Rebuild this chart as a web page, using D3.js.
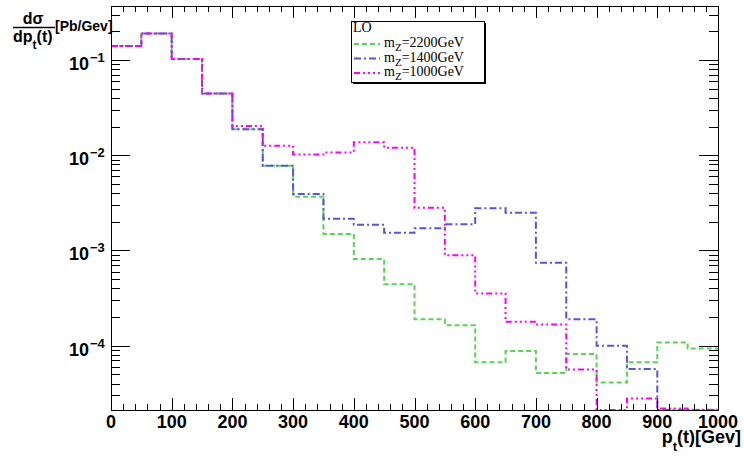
<!DOCTYPE html>
<html>
<head>
<meta charset="utf-8">
<script src="https://cdn.jsdelivr.net/npm/d3@7"></script>
<style>
  body { margin: 0; background: #fff; }
  svg { display: block; }
</style>
</head>
<body>
<div id="chart"></div>
<script>
// chart size and frame
const width = 744;
const height = 456;
const margin = { top: 6, right: 26, bottom: 46, left: 111 };

// lower edges of the 50 GeV bins
const binLow = [0, 50, 100, 150, 200, 250, 300, 350, 400, 450,
                500, 550, 600, 650, 700, 750, 800, 850, 900, 950];
const binHigh = 1000;

// dsigma/dpt per bin
const mz2200 = [0.140, 0.190, 0.1025, 0.0445, 0.0187, 0.00776, 0.00367, 0.00149, 0.000812, 0.000441,
                0.000189, 0.000164, 6.68e-5, 8.78e-5, 5.15e-5, 8.16e-5, 4.11e-5, 6.68e-5, 1.08e-4, 9.33e-5];
const mz1400 = [0.140, 0.190, 0.1025, 0.0445, 0.0187, 0.00776, 0.00391, 0.00215, 0.00186, 0.00153,
                0.00171, 0.00188, 0.00277, 0.00249, 0.000743, 0.000189, 1.00e-4, 5.68e-5, 2.1e-5, 2.1e-5];
const mz1000 = [0.140, 0.190, 0.1025, 0.0445, 0.0203, 0.0126, 0.0102, 0.0107, 0.01367, 0.0120,
                0.00281, 0.000889, 0.000354, 0.000178, 0.000167, 5.61e-5, 1e-6, 2.79e-5, 2.19e-5, 2.12e-5];

// axis ticks
const xTicks = [0, 100, 200, 300, 400, 500, 600, 700, 800, 900, 1000];
const yTickExp = [-1, -2, -3, -4];

const series = [
  { name: "2200GeV", values: mz2200, color: "#59d454", dash: "5,3" },
  { name: "1400GeV", values: mz1400, color: "#5954d8", dash: "7,3,2,3" },
  { name: "1000GeV", values: mz1000, color: "#ff00ff", dash: "6,3,2,3,2,3,2,3" }
];

const svg = d3.select("#chart").append("svg")
  .attr("width", width)
  .attr("height", height);

const x = d3.scaleLinear()
  .domain([0, 1000])
  .range([margin.left, width - margin.right]);

const y = d3.scaleLog()
  .domain([2.11e-5, 0.369])
  .range([height - margin.bottom, margin.top])
  .clamp(true);

const x0 = margin.left, x1 = width - margin.right;
const y0 = height - margin.bottom, y1 = margin.top;

// histograms as step outlines
const step = d3.line()
  .x(d => x(d[0]))
  .y(d => y(d[1]))
  .curve(d3.curveStepAfter);

series.forEach(s => {
  const pts = binLow.map((b, i) => [b, s.values[i]]);
  pts.push([binHigh, s.values[s.values.length - 1]]);
  svg.append("path")
    .attr("d", step(pts))
    .attr("fill", "none")
    .attr("stroke", s.color)
    .attr("stroke-width", 2)
    .attr("stroke-dasharray", s.dash);
});

// minor ticks
const xMinor = [];
for (let v = 0; v <= 1000; v += 20) if (v % 100 !== 0) xMinor.push(v);
const yMinor = [];
for (let e = -5; e <= -1; e++) {
  for (let k = 2; k <= 9; k++) {
    const v = k * Math.pow(10, e);
    if (v >= y.domain()[0] && v <= y.domain()[1]) yMinor.push(v);
  }
}
const yMajor = yTickExp.map(e => Math.pow(10, e));

const axes = svg.append("g").attr("shape-rendering", "crispEdges");

function styleAxis(g) {
  g.select(".domain").remove();
  g.selectAll("line").attr("stroke", "#000");
}

axes.append("g").attr("transform", `translate(0,${y0})`)
  .call(d3.axisBottom(x).tickValues(xTicks).tickSize(-12).tickFormat(""))
  .call(styleAxis);
axes.append("g").attr("transform", `translate(0,${y0})`)
  .call(d3.axisBottom(x).tickValues(xMinor).tickSize(-6).tickFormat(""))
  .call(styleAxis);
axes.append("g").attr("transform", `translate(0,${y1})`)
  .call(d3.axisTop(x).tickValues(xTicks).tickSize(-12).tickFormat(""))
  .call(styleAxis);
axes.append("g").attr("transform", `translate(0,${y1})`)
  .call(d3.axisTop(x).tickValues(xMinor).tickSize(-6).tickFormat(""))
  .call(styleAxis);

axes.append("g").attr("transform", `translate(${x0},0)`)
  .call(d3.axisLeft(y).tickValues(yMajor).tickSize(-19).tickFormat(""))
  .call(styleAxis);
axes.append("g").attr("transform", `translate(${x0},0)`)
  .call(d3.axisLeft(y).tickValues(yMinor).tickSize(-9).tickFormat(""))
  .call(styleAxis);
axes.append("g").attr("transform", `translate(${x1},0)`)
  .call(d3.axisRight(y).tickValues(yMajor).tickSize(-19).tickFormat(""))
  .call(styleAxis);
axes.append("g").attr("transform", `translate(${x1},0)`)
  .call(d3.axisRight(y).tickValues(yMinor).tickSize(-9).tickFormat(""))
  .call(styleAxis);

// frame
axes.append("rect")
  .attr("x", x0).attr("y", y1)
  .attr("width", x1 - x0).attr("height", y0 - y1)
  .attr("fill", "none").attr("stroke", "#000").attr("stroke-width", 1);

const sans = "'Liberation Sans', Arial, Helvetica, sans-serif";
const serif = "'Liberation Serif', 'Times New Roman', serif";

// x tick labels
svg.append("g").selectAll("text")
  .data(xTicks)
  .join("text")
  .attr("x", d => x(d))
  .attr("y", y0 + 18)
  .attr("text-anchor", "middle")
  .attr("font-family", sans)
  .attr("font-weight", "bold")
  .attr("font-size", 18)
  .text(d => d);

// y tick labels 10^n
const yl = svg.append("g");
yTickExp.forEach(e => {
  const ty = y(Math.pow(10, e));
  yl.append("text")
    .attr("x", 89).attr("y", ty + 10)
    .attr("text-anchor", "end")
    .attr("font-family", sans).attr("font-weight", "bold").attr("font-size", 18)
    .text("10");
  yl.append("text")
    .attr("x", 90).attr("y", ty + 2)
    .attr("font-family", sans).attr("font-weight", "bold").attr("font-size", 13)
    .text("\u2212" + Math.abs(e));
});

// x title
const xt = svg.append("text")
  .attr("x", 741).attr("y", 443)
  .attr("text-anchor", "end")
  .attr("font-family", sans).attr("font-weight", "bold").attr("font-size", 18);
xt.append("tspan").text("p");
xt.append("tspan").attr("dy", 8).attr("font-size", 13).text("t");
xt.append("tspan").attr("dy", -8).text("(t)[Gev]");

// y title: fraction
svg.append("text")
  .attr("x", 33).attr("y", 24)
  .attr("text-anchor", "middle")
  .attr("font-family", sans).attr("font-weight", "bold").attr("font-size", 16)
  .text("d\u03c3");
svg.append("line")
  .attr("x1", 13).attr("x2", 55)
  .attr("y1", 27.5).attr("y2", 27.5)
  .attr("stroke", "#000").attr("stroke-width", 1.3);
const den = svg.append("text")
  .attr("x", 13).attr("y", 42)
  .attr("font-family", sans).attr("font-weight", "bold").attr("font-size", 16);
den.append("tspan").text("dp");
den.append("tspan").attr("dy", 7).attr("font-size", 12).text("t");
den.append("tspan").attr("dy", -7).text("(t)");
svg.append("text")
  .attr("x", 55).attr("y", 31)
  .attr("font-family", sans).attr("font-weight", "bold").attr("font-size", 14)
  .text("[Pb/Gev]");

// legend
const lg = svg.append("g");
lg.append("rect")
  .attr("x", 353).attr("y", 23).attr("width", 133).attr("height", 61)
  .attr("fill", "#000");
lg.append("rect")
  .attr("x", 351.5).attr("y", 21.5).attr("width", 133).attr("height", 61)
  .attr("fill", "#fff").attr("stroke", "#000").attr("stroke-width", 1);
lg.append("text")
  .attr("x", 353).attr("y", 32)
  .attr("font-family", serif).attr("font-size", 14)
  .text("LO");
const rowY = [44, 58.5, 73];
series.forEach((s, i) => {
  lg.append("line")
    .attr("x1", 354).attr("x2", 380)
    .attr("y1", rowY[i]).attr("y2", rowY[i])
    .attr("stroke", s.color).attr("stroke-width", 2)
    .attr("stroke-dasharray", s.dash);
  const t = lg.append("text")
    .attr("x", 384).attr("y", rowY[i] + 3)
    .attr("font-family", serif).attr("font-size", 14);
  t.append("tspan").text("m");
  t.append("tspan").attr("dy", 4).attr("font-size", 11).text("Z");
  t.append("tspan").attr("dy", -4).text("=" + s.name);
});
</script>
</body>
</html>
